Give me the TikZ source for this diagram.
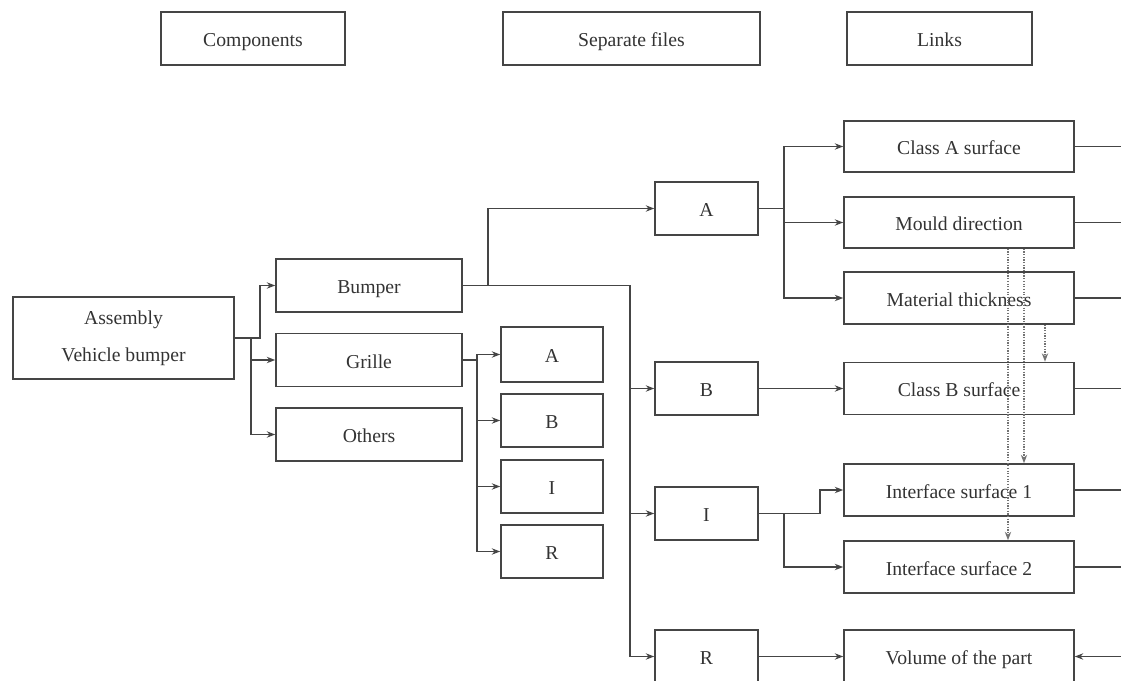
\documentclass[tikz,border=0pt]{standalone}
\usepackage{fontspec}
\setmainfont{Liberation Serif}
\usetikzlibrary{arrows.meta,calc}
\definecolor{linegray}{HTML}{454545}
\definecolor{textgray}{HTML}{333333}
\tikzset{
  frame/.style={draw=linegray, line width=1.1pt, rectangle, inner sep=0pt,
    minimum height=53*0.025cm, text=textgray, font=\fontsize{14}{16}\selectfont},
  box/.style={frame, text height=12pt, text depth=0pt},
  link/.style={draw=linegray, line width=1.1pt},
  arr/.style={link, -{Stealth[length=6pt,width=4.5pt]}},
  dotarr/.style={draw=black!55, densely dotted, line width=0.9pt, -{Stealth[length=6pt,width=4.5pt]}},
}

\begin{document}
\begin{tikzpicture}[x=0.025cm, y=-0.025cm]
    \useasboundingbox (0,0) rectangle (1121,681);
    \coordinate (edge) at (1121,0);
    % headers
    \node [box, minimum width=184*0.025cm] (hcomp) at (253,38.5) {Components};
    \node [box, minimum width=257*0.025cm] (hfiles) at (631.5,38.5) {Separate files};
    \node [box, minimum width=185*0.025cm] (hlinks) at (939.5,38.5) {Links};
    % assembly
    \node [frame, minimum width=221*0.025cm, minimum height=82*0.025cm, align=center] (asm) at (123.5,338) {Assembly\\[10pt]Vehicle bumper};
    % components
    \node [box, minimum width=186*0.025cm] (bump) at (369,285.5) {Bumper};
    \node [box, minimum width=186*0.025cm] (grille) at (369,360) {Grille};
    \node [box, minimum width=186*0.025cm] (others) at (369,434.5) {Others};
    % grille files
    \node [box, minimum width=102*0.025cm, minimum height=55*0.025cm] (gA) at (552,354.5) {A};
    \node [box, minimum width=102*0.025cm] (gB) at (552,420.5) {B};
    \node [box, minimum width=102*0.025cm] (gI) at (552,486.5) {I};
    \node [box, minimum width=102*0.025cm] (gR) at (552,551.5) {R};
    % bumper files
    \node [box, minimum width=103*0.025cm] (bA) at (706.5,208.5) {A};
    \node [box, minimum width=103*0.025cm] (bB) at (706.5,388.5) {B};
    \node [box, minimum width=103*0.025cm] (bI) at (706.5,513.5) {I};
    \node [box, minimum width=103*0.025cm] (bR) at (706.5,656.5) {R};
    % links
    \node [box, minimum width=230*0.025cm, minimum height=51*0.025cm] (lA) at (959,146.5) {Class A surface};
    \node [box, minimum width=230*0.025cm, minimum height=51*0.025cm] (mould) at (959,222.5) {Mould direction};
    \node [box, minimum width=230*0.025cm, minimum height=52*0.025cm] (mat) at (959,298) {Material thickness};
    \node [box, minimum width=230*0.025cm, minimum height=52*0.025cm] (lB) at (959,388.5) {Class B surface};
    \node [box, minimum width=230*0.025cm, minimum height=52*0.025cm] (lI1) at (959,490) {Interface surface 1};
    \node [box, minimum width=230*0.025cm, minimum height=52*0.025cm] (lI2) at (959,567) {Interface surface 2};
    \node [box, minimum width=230*0.025cm] (vol) at (959,656.5) {Volume of the part};
    % assembly -> components
    \draw [link] (asm.east) -- ++(16,0) coordinate (jA);
    \draw [arr] (jA) -- ++(9,0) |- (bump.west);
    \draw [arr] (jA) |- (grille.west);
    \draw [arr] (jA) |- (others.west);
    % grille -> files
    \draw [link] (grille.east) -- ++(14,0) coordinate (jG);
    \draw [arr] (jG) |- (gA.west);
    \draw [arr] (jG) |- (gB.west);
    \draw [arr] (jG) |- (gI.west);
    \draw [arr] (jG) |- (gR.west);
    % bumper -> files
    \draw [link] (bump.east) -- ++(167,0) coordinate (jC);
    \draw [arr] ($(bump.east)+(25,0)$) |- (bA.west);
    \draw [arr] (jC) |- (bR.west);
    \draw [arr] (bB.west -| jC) -- (bB.west);
    \draw [arr] (bI.west -| jC) -- (bI.west);
    % files -> links
    \draw [link] (bA.east) -- ++(25,0) coordinate (jD);
    \draw [arr] (jD) |- (lA.west);
    \draw [arr] (jD) |- (mould.west);
    \draw [arr] (jD) |- (mat.west);
    \draw [arr] (bB.east) -- (lB.west);
    \draw [link] (bI.east) -- ++(25,0) coordinate (jE);
    \draw [arr] (jE) -- ++(36,0) |- (lI1.west);
    \draw [arr] (jE) |- (lI2.west);
    \draw [arr] (bR.east) -- (vol.west);
    % lines to the right
    \draw [link] (lA.east) -- (lA.east -| edge);
    \draw [link] (mould.east) -- (mould.east -| edge);
    \draw [link] (mat.east) -- (mat.east -| edge);
    \draw [link] (lB.east) -- (lB.east -| edge);
    \draw [link] (lI1.east) -- (lI1.east -| edge);
    \draw [link] (lI2.east) -- (lI2.east -| edge);
    \draw [arr] (vol.east -| edge) -- (vol.east);
    % dotted dependencies
    \draw [dotarr] ($(mould.south)+(49,0)$) -- ($(lI2.north)+(49,0)$);
    \draw [dotarr] ($(mould.south)+(65,0)$) -- ($(lI1.north)+(65,0)$);
    \draw [dotarr] ($(mat.south)+(86,0)$) -- ($(lB.north)+(86,0)$);
\end{tikzpicture}
\end{document}
